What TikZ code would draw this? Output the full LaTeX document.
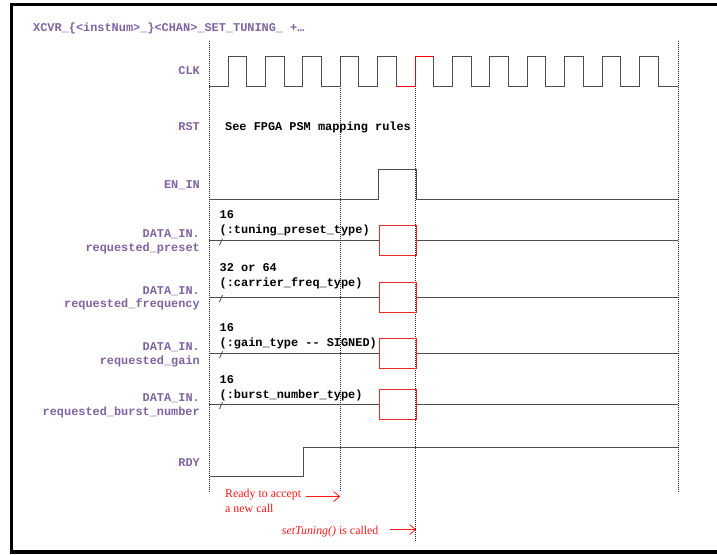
\documentclass[tikz,border=0pt]{standalone}
\usepackage{fontspec}
\setmainfont{Liberation Serif}
\setmonofont{Liberation Mono}
\usetikzlibrary{arrows.meta}
\definecolor{lblpurple}{HTML}{8064A2}
\definecolor{sig}{HTML}{4D4D4D}
\definecolor{annred}{HTML}{FF1A1A}
\definecolor{boxred}{HTML}{F02828}
\begin{document}
\begin{tikzpicture}[x=1pt,y=-1pt,
  mono/.style={font=\ttfamily\bfseries\fontsize{11.9}{14}\selectfont, inner sep=0pt},
  lbl/.style={mono, text=lblpurple, anchor=base east},
  txt/.style={mono, text=black, anchor=base west},
  ann/.style={font=\fontsize{11.9}{14}\selectfont, text=annred, inner sep=0pt, anchor=base west},
  wave/.style={draw=sig, line width=1pt},
  redwave/.style={draw=red, line width=1pt},
  valbox/.style={draw=boxred, line width=1pt, minimum width=36.7pt, minimum height=30pt, inner sep=0pt, anchor=west},
  guide/.style={draw=black!85, line width=0.6pt, dash pattern=on 1pt off 1pt},
  annarrow/.style={draw=annred, line width=0.8pt, -{Straight Barb[length=6pt,width=10pt]}},
  slashmark/.style={draw=sig, line width=0.8pt},
]
\useasboundingbox (0,0) rectangle (717,554);
\clip (0,0) rectangle (717,554);
\fill[white] (0,0) rectangle (717,554);
\draw[line width=3.6pt] (730,4.5) -- (11.5,4.5) -- (11.5,551.8) -- (730,551.8);

% guides
\draw[guide] (209,40.5) -- (209,491.7);
\draw[guide] (340.2,86) -- (340.2,491.7);
\draw[guide] (415,86) -- (415,541.7);
\draw[guide] (678.3,40.5) -- (678.3,491.7);

% title
\node[mono, text=lblpurple, anchor=base west] (title) at (33,31) {XCVR\_\{<instNum>\_\}<CHAN>\_SET\_TUNING\_ +…};

% labels
\node[lbl] (lclk) at (200,74.5) {CLK};
\node[lbl] (lrst) at (200,130) {RST};
\node[lbl] (len) at (200,188.5) {EN\_IN};
\node[lbl] (lpre1) at (200,237.5) {DATA\_IN.};
\node[lbl] (lpre2) at (200,251) {requested\_preset};
\node[lbl] (lfrq1) at (200,294.2) {DATA\_IN.};
\node[lbl] (lfrq2) at (200,307.8) {requested\_frequency};
\node[lbl] (lgain1) at (200,350.2) {DATA\_IN.};
\node[lbl] (lgain2) at (200,364.2) {requested\_gain};
\node[lbl] (lbst1) at (200,401.2) {DATA\_IN.};
\node[lbl] (lbst2) at (200,415.2) {requested\_burst\_number};
\node[lbl] (lrdy) at (200,466.2) {RDY};

% CLK
\draw[wave] (209,86) foreach \k in {0,...,4} { -- ({228+37.4*\k},86) -- ({228+37.4*\k},56) -- ({246.7+37.4*\k},56) -- ({246.7+37.4*\k},86) };
\draw[redwave] (396.3,86) -- (415,86) -- (415,56) -- (433.7,56);
\draw[wave] (433.7,56) -- (433.7,86) foreach \k in {6,...,11} { -- ({228+37.4*\k},86) -- ({228+37.4*\k},56) -- ({246.7+37.4*\k},56) -- ({246.7+37.4*\k},86) } -- (678.3,86);

% RST
\node[txt] (rsttxt) at (225,130) {See FPGA PSM mapping rules};

% EN_IN
\draw[wave] (209,199.3) -- (378.3,199.3) -- (378.3,169.3) -- (416,169.3) -- (416,199.3) -- (678.3,199.3);

% DATA preset
\node[txt] (pre1) at (219.5,218.5) {16};
\node[txt] (pre2) at (219.5,233) {(:tuning\_preset\_type)};
\node[valbox] (bpre) at (379,240.7) {};
\draw[wave] (209,240.7) -- (bpre.west);
\draw[wave] (bpre.east) -- (678.3,240.7);
\draw[slashmark] (219.5,245.3) -- (222.5,238.5);

% DATA frequency
\node[txt] (frq1) at (219.5,271.8) {32 or 64};
\node[txt] (frq2) at (219.5,286.5) {(:carrier\_freq\_type)};
\node[valbox] (bfrq) at (379,297.3) {};
\draw[wave] (209,297.3) -- (bfrq.west);
\draw[wave] (bfrq.east) -- (678.3,297.3);
\draw[slashmark] (219.5,301.9) -- (222.5,295.1);

% DATA gain
\node[txt] (gain1) at (219.5,331.8) {16};
\node[txt] (gain2) at (219.5,346.3) {(:gain\_type -- SIGNED)};
\node[valbox] (bgain) at (379,353.5) {};
\draw[wave] (209,353.5) -- (bgain.west);
\draw[wave] (bgain.east) -- (678.3,353.5);
\draw[slashmark] (219.5,358.1) -- (222.5,351.3);

% DATA burst
\node[txt] (bst1) at (219.5,383.5) {16};
\node[txt] (bst2) at (219.5,398) {(:burst\_number\_type)};
\node[valbox] (bbst) at (379,404.3) {};
\draw[wave] (209,404.3) -- (bbst.west);
\draw[wave] (bbst.east) -- (678.3,404.3);
\draw[slashmark] (219.5,408.9) -- (222.5,402.1);

% RDY
\draw[wave] (210,476.7) -- (303.3,476.7) -- (303.3,447.7) -- (678.3,447.7);

% annotations
\node[ann] (ready1) at (225,497) {Ready to accept};
\node[ann] (ready2) at (225,512.5) {a new call};
\coordinate (readytip) at (340.2,496.5);
\draw[annarrow] (readytip -| ready1.east) ++(5,0) -- (readytip);

\node[ann] (settun) at (281.7,534) {\textit{setTuning()} is called};
\coordinate (settip) at (416.2,529.5);
\draw[annarrow] (settip -| settun.east) ++(11,0) -- (settip);
\end{tikzpicture}
\end{document}
